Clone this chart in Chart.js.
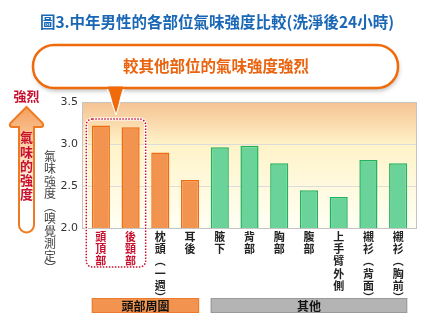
<!DOCTYPE html>
<html>
<head>
<meta charset="utf-8">
<script src="https://cdn.jsdelivr.net/npm/chart.js@4"></script>
<style>
  html, body { margin: 0; padding: 0; background: #fff; }
  #wrap { width: 432px; height: 324px; }
</style>
</head>
<body>
<div id="wrap"><canvas id="myChart" width="432" height="324"></canvas></div>
<script>
const chart = document.getElementById('myChart');
const CJK = '"Noto Sans CJK TC", "Noto Sans CJK SC", sans-serif';

// data
const titolo = '圖3.中年男性的各部位氣味強度比較(洗淨後24小時)';
const categorie = ['頭頂部', '後頸部', '枕頭(一週)', '耳後', '腋下', '背部', '胸部', '腹部', '上手臂外側', '襯衫(背面)', '襯衫(胸前)'];
const valori = [3.22, 3.20, 2.90, 2.57, 2.96, 2.98, 2.77, 2.45, 2.37, 2.81, 2.77];
const tickY = [2.0, 2.5, 3.0, 3.5];
const gruppi = ['頭部周圍', '其他'];
const gruppiDa = [0, 4];
const gruppiA = [3, 10];
const evidenziati = [0, 1];
const fumetto = '較其他部位的氣味強度強烈';
const titoloY = '氣味強度(嗅覺測定)';
const freccia = '氣味的強度';
const freccaTesto = '強烈';

// vertical labels: one char per line, brackets in vertical form
function verticale(s) {
  return s.replace(/\(/g, '︵').replace(/\)/g, '︶').split('');
}

const arancio = '#f2944f', arancioBordo = '#ee6d12';
const verde = '#6ad39a', verdeBordo = '#20b25e';
const rosso = '#c8102e';

function roundRect(ctx, x, y, w, h, r) {
  ctx.beginPath();
  ctx.moveTo(x + r, y);
  ctx.lineTo(x + w - r, y);
  ctx.arcTo(x + w, y, x + w, y + r, r);
  ctx.lineTo(x + w, y + h - r);
  ctx.arcTo(x + w, y + h, x + w - r, y + h, r);
  ctx.lineTo(x + r, y + h);
  ctx.arcTo(x, y + h, x, y + h - r, r);
  ctx.lineTo(x, y + r);
  ctx.arcTo(x, y, x + r, y, r);
  ctx.closePath();
}

// plot background, grid and all the decorations around the bars
const decorazioni = {
  id: 'decorazioni',
  beforeDatasetsDraw(c) {
    const ctx = c.ctx, a = c.chartArea, y = c.scales.y;
    const l = a.left - 4, r = a.right + 4;
    ctx.save();
    const g = ctx.createLinearGradient(0, a.top, 0, a.bottom);
    g.addColorStop(0, '#f5c292');
    g.addColorStop(0.34, '#fff3c8');
    g.addColorStop(1, '#fffff4');
    ctx.fillStyle = g;
    ctx.fillRect(l, a.top, r - l, a.bottom - a.top);
    ctx.strokeStyle = '#dcdcdc';
    ctx.lineWidth = 1;
    for (const v of tickY) {
      const py = Math.round(y.getPixelForValue(v)) + 0.5;
      ctx.beginPath(); ctx.moveTo(l, py); ctx.lineTo(r, py); ctx.stroke();
    }
    ctx.strokeStyle = '#c4c4c4';
    ctx.strokeRect(l + 0.5, a.top + 0.5, r - l - 1, a.bottom - a.top);
    ctx.restore();
  },
  afterDraw(c) {
    const ctx = c.ctx, x = c.scales.x, y = c.scales.y, a = c.chartArea;
    const meta = c.getDatasetMeta(0);
    ctx.save();

    // speech bubble
    ctx.save();
    ctx.shadowColor = 'rgba(0,0,0,0.25)';
    ctx.shadowBlur = 4;
    ctx.shadowOffsetX = 1;
    ctx.shadowOffsetY = 3;
    roundRect(ctx, 33, 45, 365, 43, 21);
    ctx.fillStyle = '#fff';
    ctx.fill();
    ctx.restore();
    roundRect(ctx, 33, 45, 365, 43, 21);
    ctx.strokeStyle = '#f06a0a';
    ctx.lineWidth = 2.5;
    ctx.stroke();
    ctx.beginPath();
    ctx.moveTo(108, 86.5); ctx.lineTo(123, 86.5); ctx.lineTo(116, 114);
    ctx.closePath();
    ctx.fillStyle = '#f06a0a';
    ctx.fill();
    ctx.strokeStyle = '#fff';
    ctx.lineWidth = 1;
    ctx.beginPath();
    ctx.moveTo(107, 89); ctx.lineTo(116, 115); ctx.lineTo(124, 89);
    ctx.stroke();
    ctx.fillStyle = '#ea6410';
    ctx.font = 'bold 15.5px ' + CJK;
    ctx.textAlign = 'center';
    ctx.textBaseline = 'middle';
    ctx.fillText(fumetto, 216, 66);

    // dotted frame around the two highlighted bars
    const b0 = meta.data[evidenziati[0]], b1 = meta.data[evidenziati[evidenziati.length - 1]];
    const fl = b0.x - b0.width / 2 - 5.5, fr = b1.x + b1.width / 2 + 6;
    const ft = Math.min(b0.y, b1.y) - 6.5;
    ctx.strokeStyle = '#fff';
    ctx.lineWidth = 3;
    roundRect(ctx, fl, ft, fr - fl, 267 - ft, 6);
    ctx.stroke();
    ctx.setLineDash([1.5, 1.5]);
    ctx.strokeStyle = rosso;
    ctx.lineWidth = 1.5;
    roundRect(ctx, fl, ft, fr - fl, 267 - ft, 6);
    ctx.stroke();
    ctx.setLineDash([]);

    // vertical axis title
    ctx.fillStyle = '#444';
    ctx.font = '12px ' + CJK;
    ctx.textAlign = 'center';
    ctx.textBaseline = 'top';
    verticale(titoloY).forEach((ch, i) => ctx.fillText(ch, 50, 150 + i * 12.5));

    // arrow on the left
    const cx = 26.5;
    ctx.beginPath();
    ctx.moveTo(cx, 107);
    ctx.lineTo(cx + 16, 123);
    ctx.quadraticCurveTo(cx + 18, 127, cx + 14, 127);
    ctx.lineTo(cx + 7.5, 127);
    ctx.lineTo(cx + 7.5, 225);
    ctx.arc(cx, 225, 7.5, 0, Math.PI);
    ctx.lineTo(cx - 7.5, 127);
    ctx.lineTo(cx - 14, 127);
    ctx.quadraticCurveTo(cx - 18, 127, cx - 16, 123);
    ctx.closePath();
    const ga = ctx.createLinearGradient(0, 107, 0, 232);
    ga.addColorStop(0, '#f4a05c');
    ga.addColorStop(0.3, '#fbcfa8');
    ga.addColorStop(0.75, '#ffffff');
    ga.addColorStop(1, '#ffffff');
    ctx.fillStyle = ga;
    ctx.fill();
    ctx.strokeStyle = '#f07a22';
    ctx.lineWidth = 2;
    ctx.stroke();
    ctx.fillStyle = rosso;
    ctx.font = 'bold 13px ' + CJK;
    ctx.textBaseline = 'top';
    verticale(freccia).forEach((ch, i) => ctx.fillText(ch, cx, 131 + i * 14.2));
    ctx.fillText(freccaTesto, cx, 90);

    // group bars under the axis
    gruppi.forEach((nome, i) => {
      const s = meta.data[gruppiDa[i]], e = meta.data[gruppiA[i]];
      const gl = s.x - s.width / 2, gr = e.x + e.width / 2;
      ctx.fillStyle = i === 0 ? arancio : '#b4b4b4';
      ctx.strokeStyle = i === 0 ? '#ec7a2a' : '#9a9a9a';
      ctx.lineWidth = 1;
      ctx.fillRect(gl, 298, gr - gl, 15);
      ctx.strokeRect(gl + 0.5, 298.5, gr - gl - 1, 14);
      ctx.fillStyle = '#111';
      ctx.font = 'bold 12px ' + CJK;
      ctx.textBaseline = 'middle';
      ctx.fillText(nome, (gl + gr) / 2, 306);
    });
    ctx.restore();
  }
};

new Chart(chart, {
  type: 'bar',
  data: {
    labels: categorie.map(verticale),
    datasets: [{
      data: valori,
      backgroundColor: valori.map((v, i) => i < 4 ? arancio : verde),
      borderColor: valori.map((v, i) => i < 4 ? arancioBordo : verdeBordo),
      borderWidth: 1.5,
      borderSkipped: 'bottom',
      barPercentage: 0.61,
      categoryPercentage: 1
    }]
  },
  plugins: [decorazioni],
  options: {
    responsive: false,
    animation: false,
    layout: { padding: { left: 21, right: 19, top: 0, bottom: 0 } },
    plugins: {
      legend: { display: false },
      tooltip: { enabled: false },
      title: {
        display: true,
        text: titolo,
        color: '#1a67b5',
        font: { family: CJK, size: 15.5, weight: 'bold' },
        padding: { top: 13, bottom: 70.4 }
      }
    },
    scales: {
      x: {
        grid: { display: false, drawTicks: false },
        border: { display: false },
        afterFit(scale) { scale.height = 96; },
        ticks: {
          autoSkip: false,
          maxRotation: 0,
          padding: 3,
          color: ctx => evidenziati.includes(ctx.index) ? rosso : '#222',
          font: { family: CJK, size: 11, weight: 'bold', lineHeight: 1.1 }
        }
      },
      y: {
        min: 2,
        max: 3.5,
        afterFit(scale) { scale.width = 65; },
        grid: { display: false, drawTicks: false },
        border: { display: false },
        afterBuildTicks(scale) { scale.ticks = tickY.map(v => ({ value: v })); },
        ticks: {
          padding: 8,
          color: '#333',
          font: { family: '"DejaVu Sans", sans-serif', size: 11 },
          callback: v => v.toFixed(1)
        }
      }
    }
  }
});
</script>
</body>
</html>
